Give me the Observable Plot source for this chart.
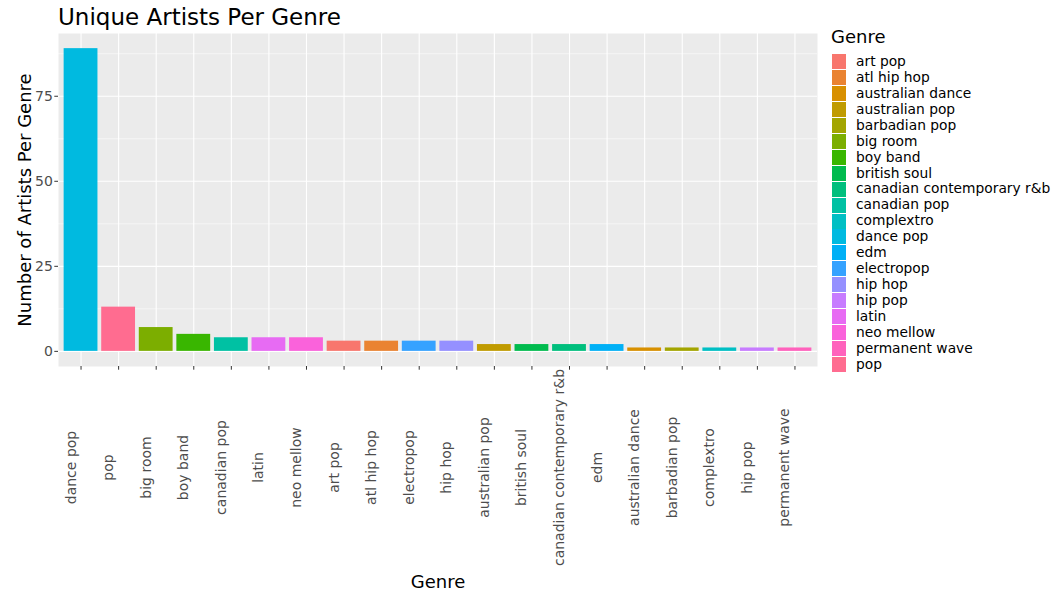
<!DOCTYPE html>
<html>
<head>
<meta charset="utf-8">
<script src="https://cdn.jsdelivr.net/npm/d3@7"></script>
<script src="https://cdn.jsdelivr.net/npm/@observablehq/plot@0.6"></script>
<style>
  body { margin: 0; background: #ffffff; font-family: "DejaVu Sans", sans-serif; }
  #wrap { position: relative; width: 1063px; height: 591px; overflow: hidden; }
  #chart { position: absolute; left: 0; top: 0; }
  #title { position: absolute; left: 58px; top: 1.5px; font-size: 23px; line-height: 30px; color: #000; white-space: nowrap; }
  #legend-title { position: absolute; left: 831px; top: 26px; font-size: 18px; line-height: 22px; color: #000; }
  .key { position: absolute; left: 832px; width: 14px; height: 15px; }
  .lab { position: absolute; left: 856px; font-size: 13.8px; line-height: 15.9px; color: #000; white-space: nowrap; }
</style>
</head>
<body>
<div id="wrap">
  <div id="chart"></div>
  <div id="title">Unique Artists Per Genre</div>
  <div id="legend-title">Genre</div>
  <div id="legend"></div>
</div>
<script>
// Genres in plotted order (sorted by count)
const genres = ["dance pop","pop","big room","boy band","canadian pop","latin","neo mellow","art pop","atl hip hop","electropop","hip hop","australian pop","british soul","canadian contemporary r&b","edm","australian dance","barbadian pop","complextro","hip pop","permanent wave"];
const counts = [89,13,7,5,4,4,4,3,3,3,3,2,2,2,2,1,1,1,1,1];

// Legend order (alphabetical) and ggplot hue palette
const legendGenres = ["art pop","atl hip hop","australian dance","australian pop","barbadian pop","big room","boy band","british soul","canadian contemporary r&b","canadian pop","complextro","dance pop","edm","electropop","hip hop","hip pop","latin","neo mellow","permanent wave","pop"];
const palette = ["#F8766D","#EA8331","#D89000","#C09B00","#A3A500","#7CAE00","#39B600","#00BB4E","#00BF7D","#00C1A3","#00BFC4","#00BAE0","#00B0F6","#35A2FF","#9590FF","#C77CFF","#E76BF3","#FA62DB","#FF62BC","#FF6C90"];

const yMajor = [0, 25, 50, 75];
const yMinor = [12.5, 37.5, 62.5, 87.5];

const rows = genres.map((g, i) => ({genre: g, count: counts[i]}));
const maxCount = d3.max(counts);
const pad = maxCount * 0.05;

const chart = Plot.plot({
  width: 1063,
  height: 591,
  marginLeft: 58,
  marginRight: 246,
  marginTop: 33,
  marginBottom: 225,
  style: {fontFamily: "DejaVu Sans, sans-serif", background: "transparent", overflow: "visible"},
  x: {domain: genres, paddingInner: 0.1, paddingOuter: 0.15, round: false, axis: null},
  y: {domain: [-pad, maxCount + pad], axis: null},
  color: {domain: legendGenres, range: palette},
  marks: [
    Plot.frame({fill: "#EBEBEB", stroke: null}),
    Plot.gridY(yMinor, {stroke: "#ffffff", strokeOpacity: 1, strokeWidth: 0.55}),
    Plot.gridY(yMajor, {stroke: "#ffffff", strokeOpacity: 1, strokeWidth: 1.1}),
    Plot.gridX(genres, {stroke: "#ffffff", strokeOpacity: 1, strokeWidth: 1.1}),
    Plot.barY(rows, {x: "genre", y: "count", fill: "genre"}),
    Plot.axisY(yMajor, {tickSize: 3.7, tickPadding: 2, fontSize: 14, stroke: "#333333", fill: "#4D4D4D", label: null}),
    Plot.axisX(genres, {tickSize: 3.7, tickFormat: () => "", stroke: "#333333", label: null}),
    Plot.text(genres, {x: d => d, text: d => d, frameAnchor: "bottom", rotate: -90, textAnchor: "middle", lineAnchor: "middle", dy: 101, dx: -10, fontSize: 14, fill: "#4D4D4D"}),
    Plot.text(["Number of Artists Per Genre"], {text: d => d, frameAnchor: "left", rotate: -90, textAnchor: "middle", lineAnchor: "middle", dx: -33.5, fontSize: 18, fill: "#000000"}),
    Plot.text(["Genre"], {text: d => d, frameAnchor: "bottom", textAnchor: "middle", lineAnchor: "middle", dy: 216, fontSize: 18, fill: "#000000"})
  ]
});
document.getElementById("chart").appendChild(chart);

// Legend
const legend = d3.select("#legend");
legendGenres.forEach((g, i) => {
  const top = 54.3 + i * 15.92;
  legend.append("div").attr("class", "key").style("top", top + "px").style("background", palette[i]);
  legend.append("div").attr("class", "lab").style("top", (top - 0.2) + "px").text(g);
});
</script>
</body>
</html>
